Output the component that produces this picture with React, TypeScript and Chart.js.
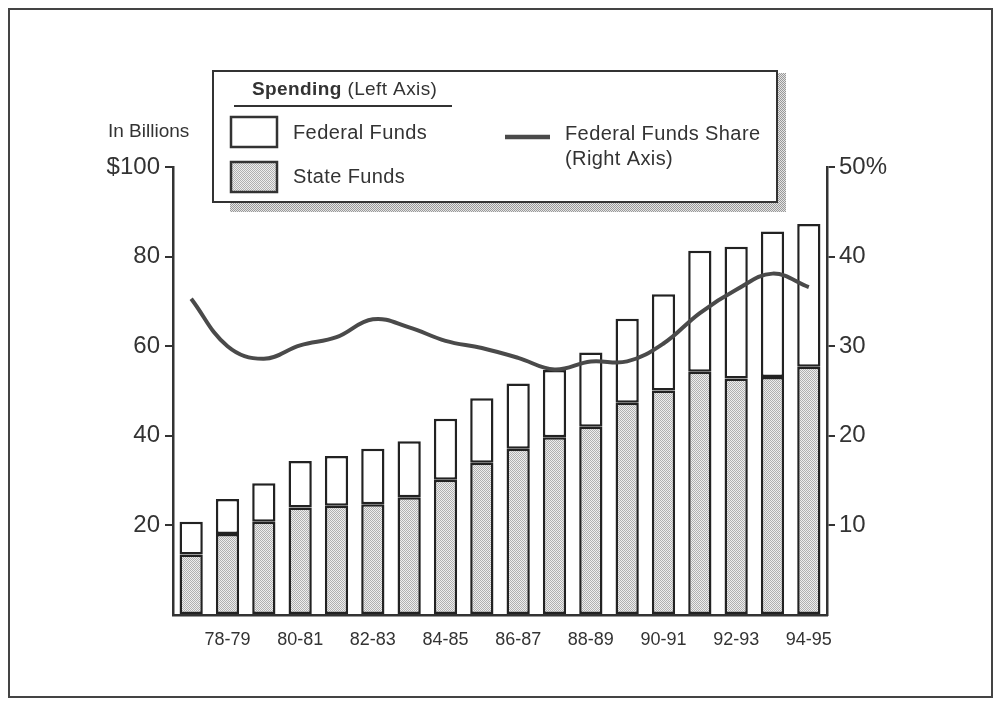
import React, { useEffect, useRef } from 'react';
import { Chart, registerables } from 'chart.js';

Chart.register(...registerables);

const seasons = [
  '77-78', '78-79', '79-80', '80-81', '81-82', '82-83', '83-84', '84-85', '85-86',
  '86-87', '87-88', '88-89', '89-90', '90-91', '91-92', '92-93', '93-94', '94-95',
];
const stateFunds = [13.5, 18.1, 20.8, 24.0, 24.4, 24.7, 26.3, 30.2, 34.0, 37.1, 39.7, 42.0, 47.4, 50.1, 54.3, 52.8, 53.1, 55.4];
const federalFunds = [7.3, 7.8, 8.6, 10.4, 11.1, 12.4, 12.5, 13.6, 14.4, 14.6, 15.0, 16.6, 18.7, 21.5, 27.0, 29.4, 32.5, 31.9];
const federalShare = [35.3, 30.0, 28.6, 30.1, 31.0, 33.0, 32.1, 30.6, 29.8, 28.7, 27.4, 28.3, 28.3, 30.3, 33.7, 36.3, 38.1, 36.6];
const leftTicks = [0, 20, 40, 60, 80, 100];
const rightTicks = [0, 10, 20, 30, 40, 50];

const FONT = '"Liberation Sans", Arial, Helvetica, sans-serif';
const INK = '#333333';

function makeStipple(ctx: CanvasRenderingContext2D, light: string, dark: string) {
  const c = document.createElement('canvas');
  c.width = 2;
  c.height = 2;
  const g = c.getContext('2d')!;
  g.fillStyle = light;
  g.fillRect(0, 0, 2, 2);
  g.fillStyle = dark;
  g.fillRect(0, 0, 1, 1);
  g.fillRect(1, 1, 1, 1);
  return ctx.createPattern(c, 'repeat')!;
}

export default function App() {
  const ref = useRef<HTMLCanvasElement | null>(null);

  useEffect(() => {
    const canvas = ref.current!;
    const ctx0 = canvas.getContext('2d')!;
    const stateFill = makeStipple(ctx0, '#eeeeee', '#b0b0b0');
    const shadowFill = makeStipple(ctx0, '#e4e4e4', '#999999');

    const decor = {
      id: 'decor',
      afterDraw(chart: any) {
        const ctx: CanvasRenderingContext2D = chart.ctx;
        ctx.save();
        // outer frame
        ctx.strokeStyle = '#444';
        ctx.lineWidth = 2;
        ctx.strokeRect(9, 9, 983, 688);

        // left axis unit
        ctx.fillStyle = INK;
        ctx.textBaseline = 'middle';
        ctx.textAlign = 'left';
        ctx.font = `19px ${FONT}`;
        ctx.fillText('In Billions', 108, 132);

        // legend shadow
        ctx.fillStyle = shadowFill;
        ctx.fillRect(230, 202, 556, 10);
        ctx.fillRect(777, 73, 9, 139);

        // legend box
        ctx.fillStyle = '#ffffff';
        ctx.fillRect(213, 71, 564, 131);
        ctx.strokeStyle = INK;
        ctx.lineWidth = 2;
        ctx.strokeRect(213, 71, 564, 131);

        const ds = chart.data.datasets;
        (ctx as any).letterSpacing = '0.4px';
        // heading
        ctx.fillStyle = INK;
        ctx.font = `bold 19px ${FONT}`;
        ctx.fillText('Spending', 252, 90);
        const w = ctx.measureText('Spending').width;
        ctx.font = `19px ${FONT}`;
        ctx.fillText(' (Left Axis)', 252 + w, 90);
        ctx.beginPath();
        ctx.moveTo(234, 106);
        ctx.lineTo(452, 106);
        ctx.lineWidth = 2;
        ctx.stroke();

        // federal funds swatch
        ctx.fillStyle = '#ffffff';
        ctx.fillRect(231, 117, 46, 30);
        ctx.lineWidth = 2.5;
        ctx.strokeRect(231, 117, 46, 30);
        ctx.fillStyle = INK;
        ctx.font = `20px ${FONT}`;
        ctx.fillText(ds[1].label, 293, 133);

        // state funds swatch
        ctx.fillStyle = stateFill;
        ctx.fillRect(231, 162, 46, 30);
        ctx.strokeRect(231, 162, 46, 30);
        ctx.fillStyle = INK;
        ctx.fillText(ds[0].label, 293, 177);

        // share line swatch
        ctx.beginPath();
        ctx.moveTo(505, 137);
        ctx.lineTo(550, 137);
        ctx.lineWidth = 4.5;
        ctx.strokeStyle = '#4a4a4a';
        ctx.stroke();
        ctx.fillStyle = INK;
        ctx.fillText(ds[2].label, 565, 134);
        ctx.fillText('(Right Axis)', 565, 159);
        ctx.restore();
      },
    };

    const gridColor = (c: any) => (c.tick && c.tick.value === 0 ? 'rgba(0,0,0,0)' : INK);

    const chart = new Chart(canvas, {
      type: 'bar',
      data: {
        labels: seasons,
        datasets: [
          {
            type: 'bar',
            label: 'State Funds',
            data: stateFunds,
            backgroundColor: stateFill,
            borderColor: '#222',
            borderWidth: 2.5,
            borderSkipped: false,
            barPercentage: 0.64,
            categoryPercentage: 1,
            yAxisID: 'y',
            order: 1,
          },
          {
            type: 'bar',
            label: 'Federal Funds',
            data: federalFunds,
            backgroundColor: '#ffffff',
            borderColor: '#222',
            borderWidth: 2.5,
            borderSkipped: false,
            barPercentage: 0.64,
            categoryPercentage: 1,
            yAxisID: 'y',
            order: 1,
          },
          {
            type: 'line',
            label: 'Federal Funds Share',
            data: federalShare,
            borderColor: '#4a4a4a',
            borderWidth: 4,
            pointRadius: 0,
            tension: 0.4,
            fill: false,
            yAxisID: 'y1',
            order: 0,
          } as any,
        ],
      },
      options: {
        responsive: false,
        devicePixelRatio: 1,
        animation: false,
        layout: { padding: { top: 167, left: 0, right: 0, bottom: 0 } },
        plugins: { legend: { display: false }, tooltip: { enabled: false }, title: { display: false } },
        scales: {
          x: {
            stacked: true,
            offset: true,
            afterFit: (s: any) => {
              s.height = 90;
              s.paddingLeft = 0;
              s.paddingRight = 0;
            },
            grid: { display: false, drawTicks: false },
            border: { display: true, color: INK, width: 2.5 },
            ticks: {
              autoSkip: false,
              maxRotation: 0,
              padding: 14,
              color: INK,
              font: { family: FONT, size: 18 },
              callback: (_v: any, i: number) => (i % 2 === 1 ? seasons[i] : ''),
            },
          },
          y: {
            stacked: true,
            position: 'left',
            min: 0,
            max: 100,
            afterFit: (s: any) => {
              s.width = 173;
              s.paddingTop = 0;
              s.paddingBottom = 0;
            },
            afterBuildTicks: (s: any) => {
              s.ticks = leftTicks.map((v) => ({ value: v }));
            },
            grid: { drawOnChartArea: false, drawTicks: true, tickLength: 8, lineWidth: 2, color: gridColor },
            border: { display: true, color: INK, width: 2.5 },
            ticks: {
              padding: 5,
              color: INK,
              font: { family: FONT, size: 24 },
              callback: (v: any) => (v === 0 ? '' : v === 100 ? '$100' : String(v)),
            },
          },
          y1: {
            stacked: false,
            position: 'right',
            min: 0,
            max: 50,
            afterFit: (s: any) => {
              s.width = 169;
              s.paddingTop = 0;
              s.paddingBottom = 0;
            },
            afterBuildTicks: (s: any) => {
              s.ticks = rightTicks.map((v) => ({ value: v }));
            },
            grid: { drawOnChartArea: false, drawTicks: true, tickLength: 8, lineWidth: 2, color: gridColor },
            border: { display: true, color: INK, width: 2.5 },
            ticks: {
              padding: 4,
              color: INK,
              font: { family: FONT, size: 24 },
              callback: (v: any) => (v === 0 ? '' : v === 50 ? '50%' : String(v)),
            },
          },
        },
      } as any,
      plugins: [decor],
    });

    return () => chart.destroy();
  }, []);

  return (
    <div style={{ position: 'fixed', left: 0, top: 0, width: 996, height: 705, background: '#fff' }}>
      <canvas ref={ref} width={996} height={705} style={{ display: 'block' }} />
    </div>
  );
}
